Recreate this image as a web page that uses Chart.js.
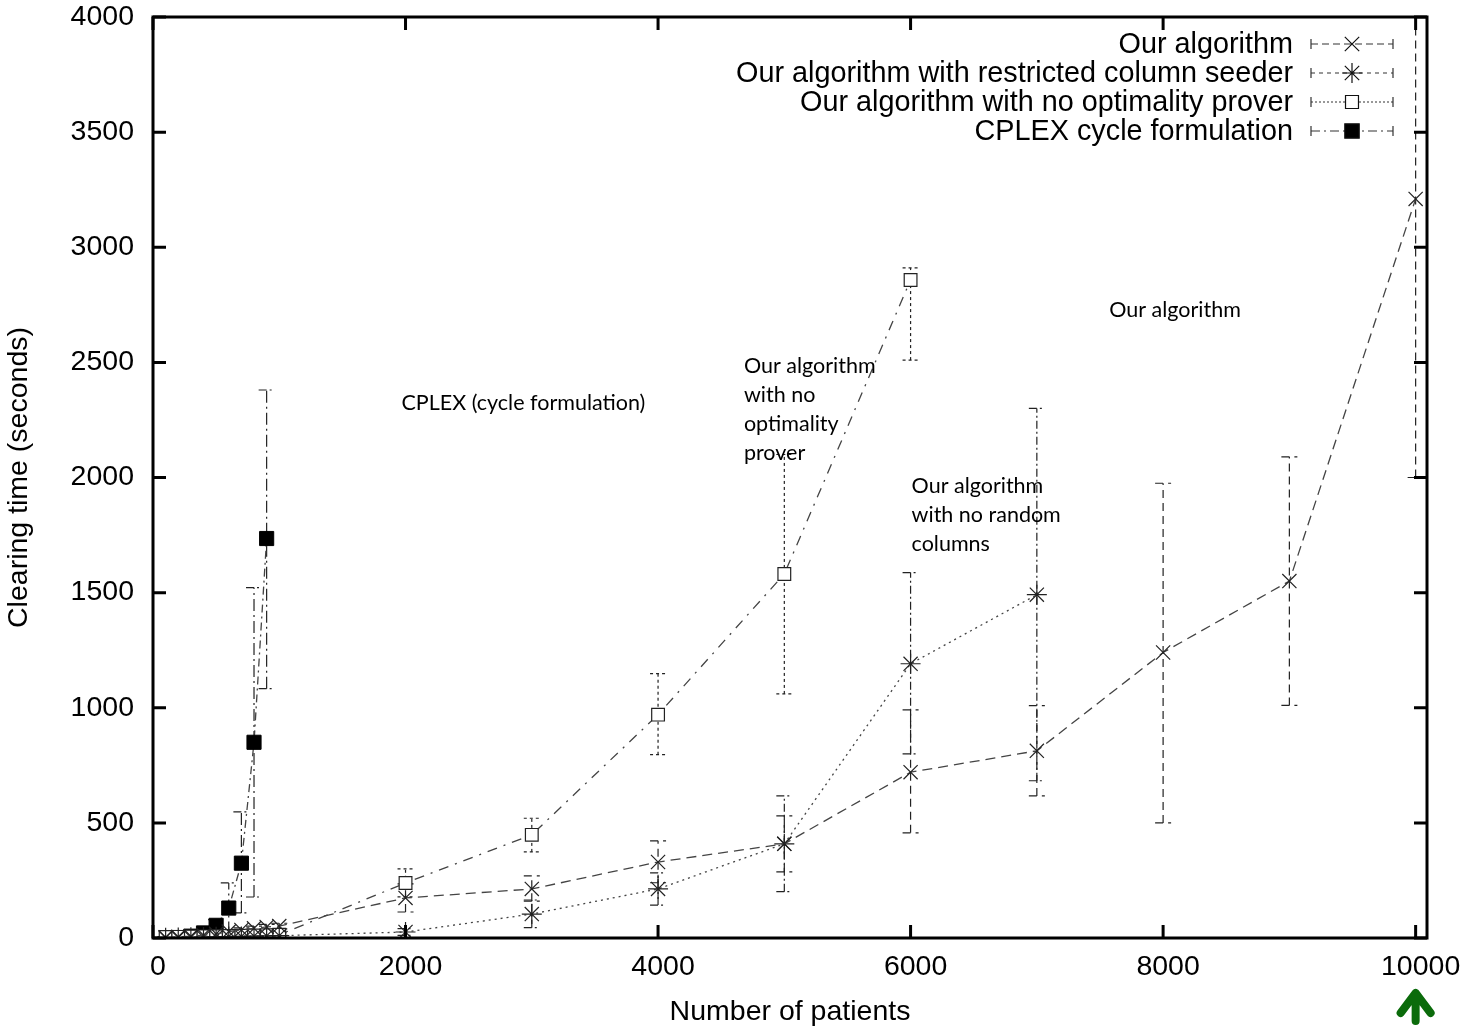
<!DOCTYPE html>
<html>
<head>
<meta charset="utf-8">
<script src="https://cdn.jsdelivr.net/npm/chart.js@4.4.1/dist/chart.umd.min.js"></script>
<style>
  html, body { margin: 0; padding: 0; background: #fff; }
</style>
</head>
<body>
<canvas id="clearingChart" width="1460" height="1026"></canvas>
<script>
// patients on the x axis
const sizes = [100, 200, 300, 400, 500, 600, 700, 800, 900, 1000, 2000, 3000, 4000, 5000, 6000, 7000, 8000, 9000, 10000];
const cplexSizes = [200, 300, 400, 500, 600, 700, 800, 900];

// clearing time (seconds)
const ourAlgorithm = [3, 5, 8, 12, 18, 28, 35, 42, 48, 52, 174, 213, 330, 409, 720, 813, 1240, 1550, 3210];
const ourAlgorithmLow = [1, 2, 4, 7, 12, 20, 26, 32, 37, 40, 113, 160, 240, 287, 457, 617, 500, 1010, 2000];
const ourAlgorithmHigh = [5, 8, 12, 17, 24, 36, 44, 52, 59, 64, 235, 270, 422, 530, 991, 1009, 1975, 2090, 4420];

const restricted = [1, 2, 3, 4, 5, 6, 7, 8, 9, 10, 26, 104, 213, 409, 1191, 1491];
const restrictedLow = [0, 1, 2, 2, 3, 3, 4, 4, 5, 5, 11, 45, 143, 201, 800, 683];
const restrictedHigh = [2, 3, 4, 6, 7, 9, 10, 12, 13, 15, 41, 165, 283, 617, 1587, 2300];

const noProver = [4, 5, 6, 7, 8, 9, 10, 11, 12, 14, 239, 448, 970, 1581, 2858];
const noProverLow = [2, 3, 3, 4, 4, 5, 5, 6, 6, 7, 179, 374, 796, 1060, 2510];
const noProverHigh = [6, 7, 9, 10, 12, 13, 15, 16, 18, 21, 300, 520, 1148, 2100, 2910];

const cplex = [2, 8, 22, 55, 130, 325, 850, 1735];
const cplexLow = [0, 3, 12, 30, 20, 109, 178, 1083];
const cplexHigh = [4, 13, 32, 80, 239, 548, 1522, 2380];

const seriesLabels = [
    'Our algorithm',
    'Our algorithm with restricted column seeder',
    'Our algorithm with no optimality prover',
    'CPLEX cycle formulation'
];

const xTicks = [0, 2000, 4000, 6000, 8000, 10000];
const yTicks = [0, 500, 1000, 1500, 2000, 2500, 3000, 3500, 4000];

// text boxes pasted over the plot (anchored in data units)
const notes = [
    { lines: ['CPLEX (cycle formulation)'], x: 1968, y: 2324 },
    { lines: ['Our algorithm', 'with no', 'optimality', 'prover'], x: 4680, y: 2484 },
    { lines: ['Our algorithm', 'with no random', 'columns'], x: 6008, y: 1963 },
    { lines: ['Our algorithm'], x: 7573, y: 2727 }
];

function toPoints(xs, ys) {
    return ys.map((y, i) => ({ x: xs[i], y: y }));
}

const AXIS_FONT = '"Liberation Sans", Arial, sans-serif';
const AXIS_SIZE = 28.5;

function drawMark(ctx, style, x, y, r, filled) {
    ctx.save();
    ctx.setLineDash([]);
    ctx.strokeStyle = '#111';
    ctx.lineWidth = 1.2;
    ctx.beginPath();
    if (style === 'crossRot') {
        const d = r * 0.72;
        ctx.moveTo(x - d, y - d); ctx.lineTo(x + d, y + d);
        ctx.moveTo(x - d, y + d); ctx.lineTo(x + d, y - d);
        ctx.stroke();
    } else if (style === 'star') {
        const d = r * 0.72;
        ctx.moveTo(x - d, y - d); ctx.lineTo(x + d, y + d);
        ctx.moveTo(x - d, y + d); ctx.lineTo(x + d, y - d);
        ctx.moveTo(x - r, y); ctx.lineTo(x + r, y);
        ctx.moveTo(x, y - r); ctx.lineTo(x, y + r);
        ctx.stroke();
    } else {
        const s = r * 0.72;
        ctx.rect(x - s, y - s, 2 * s, 2 * s);
        ctx.fillStyle = filled ? '#000' : '#fff';
        ctx.fill();
        ctx.stroke();
    }
    ctx.restore();
}

const errorBars = {
    id: 'errorBars',
    beforeDatasetsDraw(chart) {
        const ctx = chart.ctx;
        const xs = chart.scales.x, ys = chart.scales.y;
        const area = chart.chartArea;
        ctx.save();
        ctx.beginPath();
        ctx.rect(area.left, area.top, area.right - area.left, area.bottom - area.top);
        ctx.clip();
        chart.data.datasets.forEach(ds => {
            ctx.strokeStyle = '#222';
            ctx.lineWidth = 1.2;
            ds.data.forEach((p, i) => {
                const px = xs.getPixelForValue(p.x);
                const lo = ys.getPixelForValue(ds.errLow[i]);
                const hi = ys.getPixelForValue(ds.errHigh[i]);
                ctx.setLineDash(ds.errDash);
                ctx.beginPath();
                ctx.moveTo(px, lo); ctx.lineTo(px, hi);
                ctx.stroke();
                ctx.setLineDash(ds.errDash.length > 2 ? [8, 3, 2, 3] : ds.errDash);
                ctx.beginPath();
                ctx.moveTo(px - 8, lo); ctx.lineTo(px + 8, lo);
                ctx.moveTo(px - 8, hi); ctx.lineTo(px + 8, hi);
                ctx.stroke();
            });
        });
        ctx.restore();
    }
};

const frameAndExtras = {
    id: 'frameAndExtras',
    afterDraw(chart) {
        const ctx = chart.ctx;
        const a = chart.chartArea;
        const xs = chart.scales.x, ys = chart.scales.y;
        ctx.save();
        ctx.setLineDash([]);
        ctx.strokeStyle = '#000';
        ctx.lineWidth = 3;
        ctx.strokeRect(a.left, a.top, a.right - a.left, a.bottom - a.top);
        // inward tick marks on all four sides
        ctx.beginPath();
        xTicks.forEach(v => {
            const px = xs.getPixelForValue(v);
            ctx.moveTo(px, a.bottom); ctx.lineTo(px, a.bottom - 13);
            ctx.moveTo(px, a.top); ctx.lineTo(px, a.top + 13);
        });
        yTicks.forEach(v => {
            const py = ys.getPixelForValue(v);
            ctx.moveTo(a.left, py); ctx.lineTo(a.left + 13, py);
            ctx.moveTo(a.right, py); ctx.lineTo(a.right - 13, py);
        });
        ctx.stroke();

        // legend
        ctx.font = '28.8px ' + AXIS_FONT;
        ctx.textAlign = 'right';
        ctx.textBaseline = 'middle';
        ctx.fillStyle = '#000';
        chart.data.datasets.forEach((ds, i) => {
            const y = 44 + i * 29;
            ctx.fillText(ds.label, 1293, y + 1);
            ctx.strokeStyle = '#333';
            ctx.lineWidth = 1.2;
            ctx.setLineDash(ds.legendDash);
            ctx.beginPath();
            ctx.moveTo(1311, y); ctx.lineTo(1393, y);
            ctx.stroke();
            ctx.setLineDash([]);
            ctx.beginPath();
            ctx.moveTo(1311, y - 5); ctx.lineTo(1311, y + 5);
            ctx.moveTo(1393, y - 5); ctx.lineTo(1393, y + 5);
            ctx.stroke();
            drawMark(ctx, ds.pointStyle, 1352, y, ds.pointRadius, ds.pointBackgroundColor === '#000');
        });

        // annotation text boxes
        ctx.font = '21.5px Lato, "Open Sans", sans-serif';
        ctx.textAlign = 'left';
        ctx.fillStyle = '#000';
        notes.forEach(n => {
            const x0 = xs.getPixelForValue(n.x);
            const y0 = ys.getPixelForValue(n.y);
            n.lines.forEach((t, k) => ctx.fillText(t, x0, y0 + k * 29));
        });

        // green arrow under the last tick
        const ax = xs.getPixelForValue(10000);
        ctx.strokeStyle = '#0b6b0b';
        ctx.lineWidth = 8;
        ctx.lineCap = 'round';
        ctx.lineJoin = 'round';
        ctx.beginPath();
        ctx.moveTo(ax - 15, 1013); ctx.lineTo(ax, 993); ctx.lineTo(ax + 15, 1013);
        ctx.moveTo(ax, 996); ctx.lineTo(ax, 1021);
        ctx.stroke();
        ctx.restore();
    }
};

const tickFont = { family: AXIS_FONT, size: AXIS_SIZE };

const ctx = document.getElementById('clearingChart').getContext('2d');
const clearingChart = new Chart(ctx, {
    type: 'line',
    data: {
        datasets: [{
            label: seriesLabels[0],
            data: toPoints(sizes, ourAlgorithm),
            errLow: ourAlgorithmLow,
            errHigh: ourAlgorithmHigh,
            errDash: [8, 5],
            legendDash: [7, 4],
            borderColor: '#444',
            borderWidth: 1.3,
            borderDash: [10, 6],
            pointStyle: 'crossRot',
            pointRadius: 10,
            pointBorderColor: '#222',
            pointBackgroundColor: '#fff',
            pointBorderWidth: 1.2
        }, {
            label: seriesLabels[1],
            data: toPoints(sizes, restricted),
            errLow: restrictedLow,
            errHigh: restrictedHigh,
            errDash: [8, 3, 2, 3],
            legendDash: [4, 4],
            borderColor: '#444',
            borderWidth: 1.3,
            borderDash: [2, 4],
            pointStyle: 'star',
            pointRadius: 10,
            pointBorderColor: '#222',
            pointBackgroundColor: '#fff',
            pointBorderWidth: 1.2
        }, {
            label: seriesLabels[2],
            data: toPoints(sizes, noProver),
            errLow: noProverLow,
            errHigh: noProverHigh,
            errDash: [3, 3],
            legendDash: [2, 2],
            borderColor: '#444',
            borderWidth: 1.3,
            borderDash: [10, 7, 2, 7],
            pointStyle: 'rect',
            pointRadius: 9,
            pointBorderColor: '#222',
            pointBackgroundColor: '#fff',
            pointBorderWidth: 1.2
        }, {
            label: seriesLabels[3],
            data: toPoints(cplexSizes, cplex),
            errLow: cplexLow,
            errHigh: cplexHigh,
            errDash: [12, 4, 2, 4],
            legendDash: [9, 4, 2, 4],
            borderColor: '#444',
            borderWidth: 1.3,
            borderDash: [8, 4, 2, 4],
            pointStyle: 'rect',
            pointRadius: 10,
            pointBorderColor: '#000',
            pointBackgroundColor: '#000',
            pointBorderWidth: 1
        }]
    },
    options: {
        responsive: false,
        animation: false,
        layout: { padding: { left: 0, top: 17, right: 33, bottom: 0 } },
        plugins: {
            legend: { display: false },
            tooltip: { enabled: false }
        },
        scales: {
            x: {
                type: 'linear',
                min: 0,
                max: 10090,
                afterFit: s => {
                    s.height = 88;
                    s.paddingLeft = 0;
                    s.paddingRight = 0;
                },
                afterBuildTicks: s => { s.ticks = xTicks.map(v => ({ value: v })); },
                grid: { display: false, drawTicks: false },
                border: { display: false },
                ticks: { padding: 12, labelOffset: 5, color: '#000', font: tickFont, callback: v => String(v) },
                title: {
                    display: true,
                    text: 'Number of patients',
                    color: '#000',
                    padding: { top: 0, bottom: -3 },
                    font: tickFont
                }
            },
            y: {
                type: 'linear',
                min: 0,
                max: 4000,
                afterFit: s => {
                    s.width = 153;
                    s.paddingTop = 0;
                    s.paddingBottom = 0;
                },
                afterBuildTicks: s => { s.ticks = yTicks.map(v => ({ value: v })); },
                grid: { display: false, drawTicks: false },
                border: { display: false },
                ticks: { padding: 19, color: '#000', font: tickFont, callback: v => String(v) },
                title: {
                    display: true,
                    text: 'Clearing time (seconds)',
                    color: '#000',
                    padding: { top: 2, bottom: 0 },
                    font: tickFont
                }
            }
        }
    },
    plugins: [errorBars, frameAndExtras]
});
</script>
</body>
</html>
